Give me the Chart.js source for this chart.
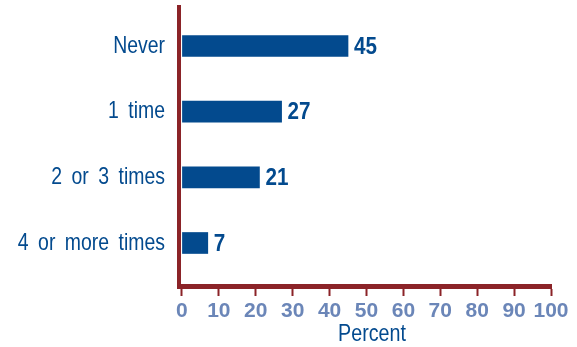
<!DOCTYPE html>
<html>
<head>
<meta charset="utf-8">
<script src="https://cdn.jsdelivr.net/npm/chart.js@4/dist/chart.umd.min.js"></script>
<style>
  html, body { margin: 0; padding: 0; background: #fff; }
  #wrap { width: 577px; height: 347px; }
</style>
</head>
<body>
<div id="wrap"><canvas id="timesChart"></canvas></div>
<script>
// answers, top to bottom
const categories = ['Never', '1 time', '2 or 3 times', '4 or more times'];
const percents = [45, 27, 21, 7];
const xTicks = [0, 10, 20, 30, 40, 50, 60, 70, 80, 90, 100];
const xTitle = 'Percent';

const BLUE = '#034a8e';
const RED = '#8b2328';
const TICK_BLUE = '#6b86b8';
const SANS = "'Liberation Sans', Arial, sans-serif";

// condensed text: regular face squeezed horizontally
function drawNarrow(ctx, text, x, y, align, font, squeeze, gap) {
    ctx.save();
    ctx.font = font;
    ctx.textAlign = align;
    ctx.textBaseline = 'middle';
    if (gap) ctx.wordSpacing = gap + 'px';
    ctx.translate(x, y);
    ctx.scale(squeeze, 1);
    ctx.fillText(text, 0, 0);
    ctx.restore();
}

// category names, bar values and the axis title
const narrowText = {
    id: 'narrowText',
    afterDraw(chart) {
        const ctx = chart.ctx;
        const xs = chart.scales.x;
        const ys = chart.scales.y;
        ctx.save();
        ctx.fillStyle = BLUE;
        categories.forEach((c, i) => {
            drawNarrow(ctx, c, ys.right - 14, ys.getPixelForValue(i), 'right', '24px ' + SANS, 0.81, 5);
        });
        const meta = chart.getDatasetMeta(0);
        meta.data.forEach((bar, i) => {
            drawNarrow(ctx, String(percents[i]), bar.x + 6, bar.y + 1, 'left', 'bold 24px ' + SANS, 0.86);
        });
        drawNarrow(ctx, xTitle, xs.getPixelForValue(51.5), 334, 'center', '24px ' + SANS, 0.82);
        ctx.restore();
    }
};

const chart_data = {
    datasets: [{
        data: percents.map((v, i) => ({ x: v, y: i })),
        backgroundColor: BLUE,
        borderWidth: 0,
        barThickness: 21
    }]
};

const config = {
    type: 'bar',
    data: chart_data,
    options: {
        indexAxis: 'y',
        responsive: true,
        maintainAspectRatio: false,
        animation: false,
        layout: { padding: { top: 7, right: 26, bottom: 20, left: 0 } },
        plugins: {
            legend: { display: false },
            tooltip: { enabled: false }
        },
        scales: {
            x: {
                type: 'linear',
                min: -0.8,
                max: 100,
                afterBuildTicks: (scale) => {
                    scale.ticks = xTicks.map(v => ({ value: v }));
                },
                grid: {
                    drawOnChartArea: false,
                    drawTicks: true,
                    tickLength: 10,
                    tickWidth: 2,
                    color: RED
                },
                border: { display: true, color: RED, width: 5 },
                ticks: {
                    autoSkip: false,
                    maxRotation: 0,
                    padding: 5,
                    color: TICK_BLUE,
                    font: { family: SANS, size: 21, weight: 'bold', lineHeight: 1 }
                }
            },
            y: {
                type: 'linear',
                reverse: true,
                offset: false,
                min: -0.594,
                max: 3.655,
                afterBuildTicks: (scale) => {
                    scale.ticks = categories.map((c, i) => ({ value: i }));
                },
                afterFit: (scale) => {
                    scale.width = 179;
                    scale.paddingTop = 0;
                    scale.paddingBottom = 0;
                },
                grid: { display: false, drawTicks: false },
                border: { display: true, color: RED, width: 4 },
                ticks: { display: false }
            }
        }
    },
    plugins: [narrowText]
};

const myChart = new Chart(document.getElementById('timesChart'), config);
</script>
</body>
</html>
